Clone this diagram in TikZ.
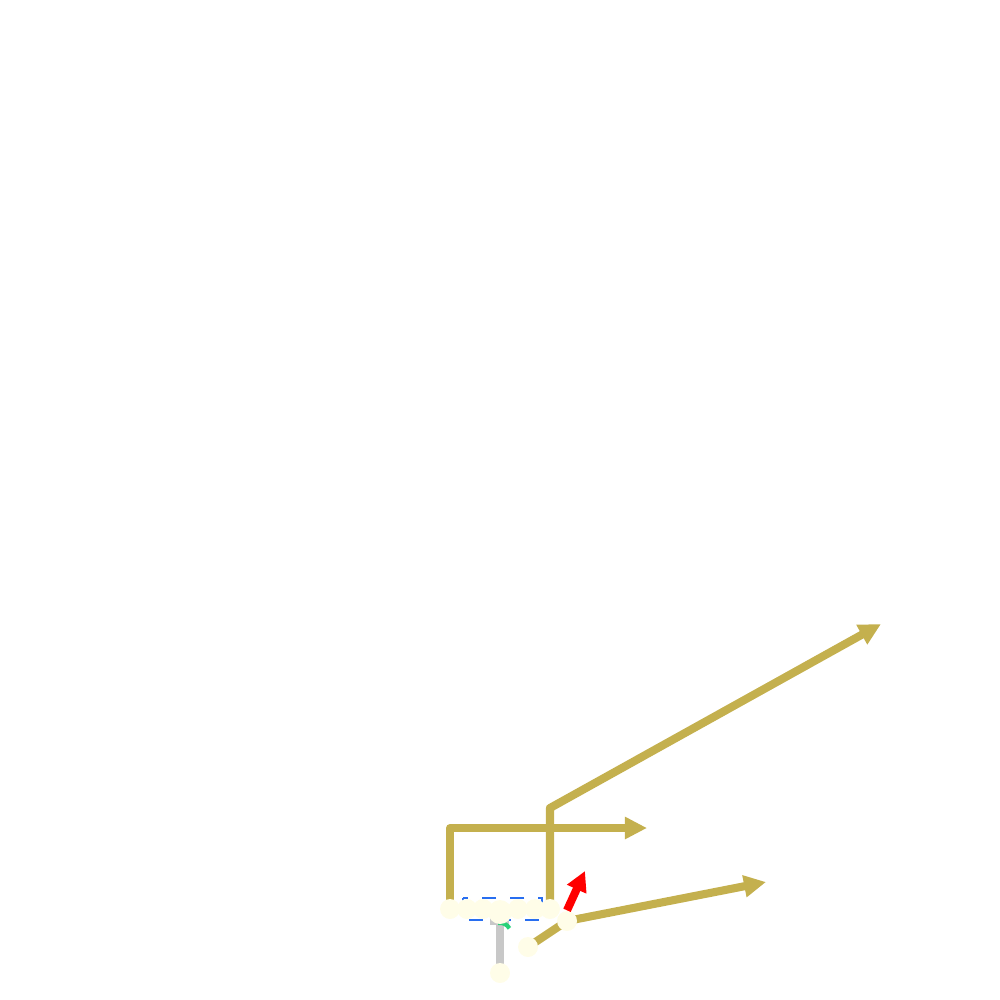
\documentclass[tikz,border=0pt]{standalone}
\usetikzlibrary{arrows.meta}
\definecolor{gold}{RGB}{196,176,78}
\definecolor{ivory}{RGB}{255,253,232}
\definecolor{dblue}{RGB}{40,110,240}
\definecolor{greyb}{RGB}{200,200,200}
\definecolor{gr}{RGB}{40,210,120}
\pgfdeclarelayer{bg}
\pgfsetlayers{bg,main}
\begin{document}
\begin{tikzpicture}[x=0.01cm,y=-0.01cm,
  dot/.style={circle,fill=ivory,draw=none,minimum size=0.2cm,inner sep=0},
  bigdot/.style={circle,fill=ivory,draw=none,minimum size=0.24cm,inner sep=0},
  wire/.style={draw=gold,line width=2.3pt,line join=round,-{Triangle[length=0.22cm,width=0.21cm]}},
  wireplain/.style={draw=gold,line width=2.3pt,line join=round},
  redarrow/.style={draw=red,line width=2.3pt,-{Triangle[length=0.2cm,width=0.2cm]}},
  stem/.style={draw=greyb,line width=2.4pt},
  dashbox/.style={draw=dblue,line width=0.7pt,dash pattern=on 4pt off 4pt}]
\useasboundingbox (0,0) rectangle (1000,1000);
% nodes
\node[dot] (c1) at (450,909) {};
\node[dot] (c2) at (467,909) {};
\node[dot] (c3) at (483,909) {};
\node[dot] (c5) at (518,909) {};
\node[dot] (c6) at (535,909) {};
\node[dot] (c7) at (550,909) {};
\node[bigdot] (c4) at (500,912) {};
\node[dot] (b) at (500,973) {};
\node[dot] (p) at (528,947) {};
\node[dot] (q) at (567,921) {};
\coordinate (t1) at (647,828);
\coordinate (t2) at (881,624);
\coordinate (t3) at (766,882);
\coordinate (t4) at (585,871);
\begin{pgfonlayer}{bg}
\draw[dashbox] (463,898) rectangle (542,920);
\fill[greyb] (490,918) rectangle (509,925);
\draw[stem] (c4.center) -- (b.center);
\draw[gr,line width=1.2pt] (498,923) arc (260:330:11);
\draw[wire] (c1.center) -- (450,828) -- (t1);
\draw[wire] (c7.center) -- (550,808) -- (t2);
\draw[wireplain] (p.center) -- (q.center);
\draw[wire] (q.center) -- (t3);
\end{pgfonlayer}
\draw[redarrow] (q.north) -- (t4);
\end{tikzpicture}
\end{document}
